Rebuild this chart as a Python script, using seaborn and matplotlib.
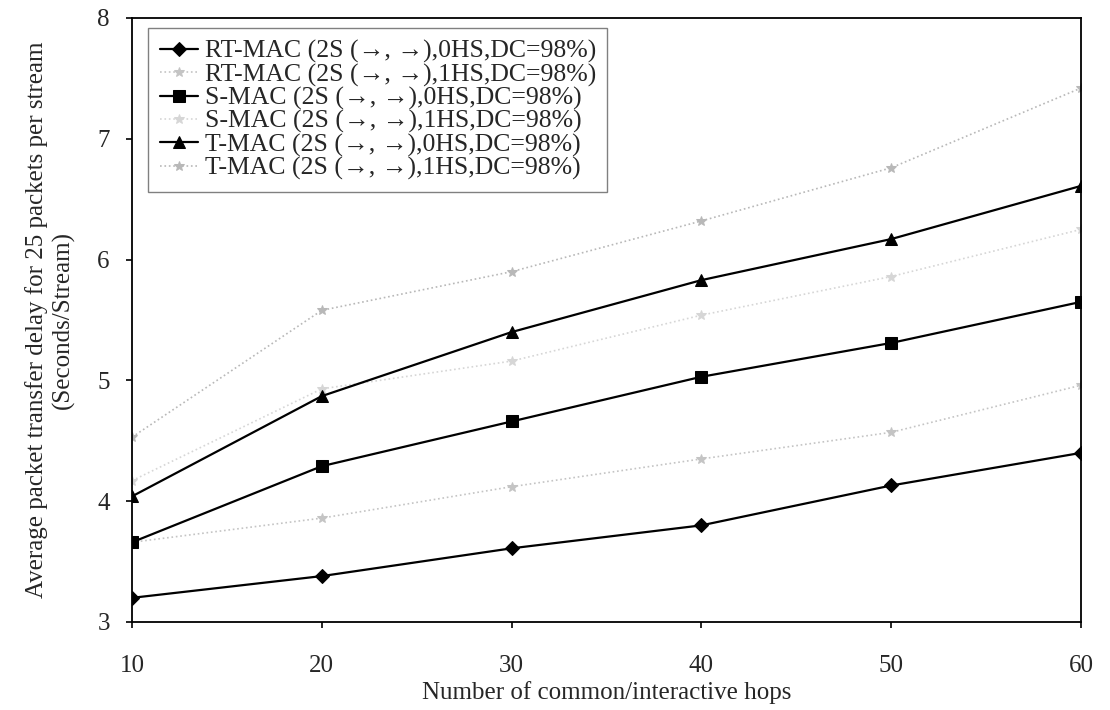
import matplotlib
matplotlib.use("Agg")
import matplotlib.pyplot as plt
import seaborn as sns
import pandas as pd

hops = [10, 20, 30, 40, 50, 60]

rt_mac_0hs = [3.20, 3.38, 3.61, 3.80, 4.13, 4.40]
rt_mac_1hs = [3.66, 3.86, 4.12, 4.35, 4.57, 4.96]
s_mac_0hs = [3.66, 4.29, 4.66, 5.03, 5.31, 5.65]
s_mac_1hs = [4.17, 4.93, 5.16, 5.54, 5.86, 6.25]
t_mac_0hs = [4.04, 4.87, 5.40, 5.83, 6.17, 6.61]
t_mac_1hs = [4.53, 5.58, 5.90, 6.32, 6.76, 7.42]

series_names = [
    "RT-MAC (2S (\u2192, \u2192),0HS,DC=98%)",
    "RT-MAC (2S (\u2192, \u2192),1HS,DC=98%)",
    "S-MAC (2S (\u2192, \u2192),0HS,DC=98%)",
    "S-MAC (2S (\u2192, \u2192),1HS,DC=98%)",
    "T-MAC (2S (\u2192, \u2192),0HS,DC=98%)",
    "T-MAC (2S (\u2192, \u2192),1HS,DC=98%)",
]
series_values = [rt_mac_0hs, rt_mac_1hs, s_mac_0hs, s_mac_1hs, t_mac_0hs, t_mac_1hs]

x_label = "Number of common/interactive hops"
y_label = "Average packet transfer delay for 25 packets per stream\n(Seconds/Stream)"

sns.set_theme(style="ticks")
plt.rcParams["font.family"] = ["Liberation Serif", "DejaVu Serif"]

frames = []
for name, vals in zip(series_names, series_values):
    frames.append(pd.DataFrame({"hops": hops, "delay": vals, "series": name}))
df = pd.concat(frames, ignore_index=True)

styles = {
    series_names[0]: dict(color="black", marker="D", linestyle="-", markersize=7, linewidth=1.6),
    series_names[1]: dict(color="#c4c4c4", marker="*", linestyle=":", markersize=7, linewidth=1.2),
    series_names[2]: dict(color="black", marker="s", linestyle="-", markersize=8, linewidth=1.6),
    series_names[3]: dict(color="#d6d6d6", marker="*", linestyle=":", markersize=7, linewidth=1.2),
    series_names[4]: dict(color="black", marker="^", linestyle="-", markersize=8, linewidth=1.6),
    series_names[5]: dict(color="#b8b8b8", marker="*", linestyle=":", markersize=7, linewidth=1.2),
}

fig = plt.figure(figsize=(11.1, 7.1), dpi=100)
ax = fig.add_axes([132 / 1110, 1 - 622 / 710, (1081 - 132) / 1110, (622 - 18) / 710])

for name in series_names:
    st = styles[name]
    sns.lineplot(
        data=df[df["series"] == name], x="hops", y="delay", ax=ax,
        color=st["color"], marker=st["marker"], linestyle=st["linestyle"],
        markersize=st["markersize"], linewidth=st["linewidth"],
        markeredgecolor=st["color"], label=name,
    )

ax.set_xlim(10, 60)
ax.set_ylim(3, 8)
ax.set_xticks(hops)
ax.set_yticks([3, 4, 5, 6, 7, 8])
ax.tick_params(axis="both", labelsize=18, direction="out", length=4, width=1.2,
               color="black")
ax.tick_params(axis="x", pad=20)
ax.tick_params(axis="y", pad=12)
ax.set_xlabel(x_label, fontsize=18, labelpad=3)
ax.set_ylabel(y_label, fontsize=18, labelpad=16, linespacing=1.25)
for sp in ax.spines.values():
    sp.set_visible(True)
    sp.set_color("black")
    sp.set_linewidth(1.3)

leg = ax.legend(
    loc="upper left", bbox_to_anchor=(0.017, 0.983),
    prop={"family": ["Liberation Serif", "DejaVu Serif"], "size": 18.5},
    frameon=True, fancybox=False, edgecolor="#808080", framealpha=1,
    handlelength=1.5, handletextpad=0.25, borderpad=0.45, labelspacing=0.0,
    borderaxespad=0,
)
leg.get_frame().set_linewidth(1.0)

fig.savefig("out.png", dpi=100)
